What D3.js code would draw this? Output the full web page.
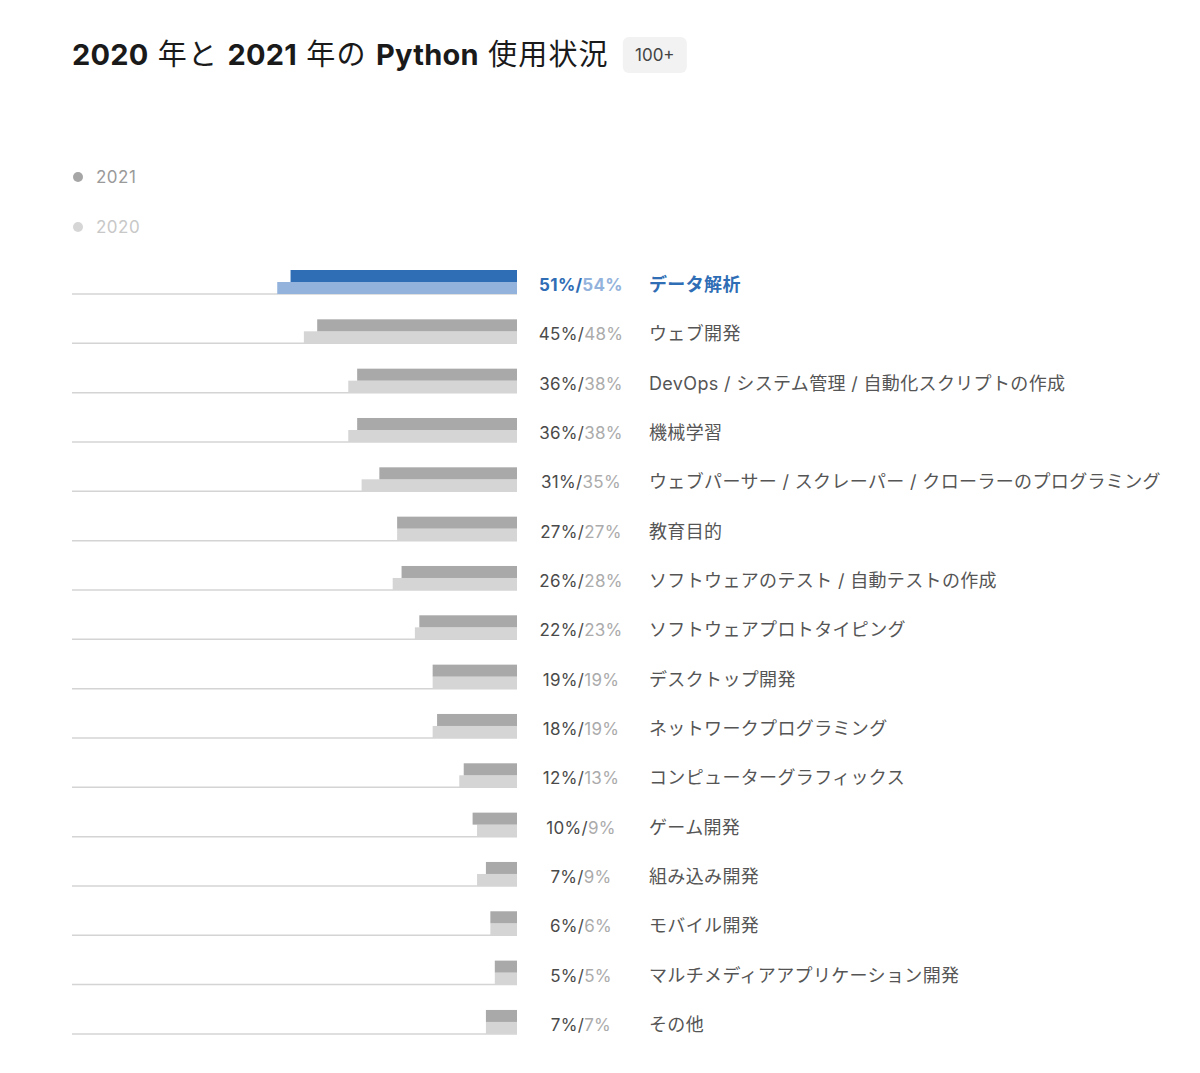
<!DOCTYPE html>
<html><head><meta charset="utf-8">
<script src="https://cdn.jsdelivr.net/npm/d3@7"></script>
<style>
body{margin:0;background:#fff;}
svg text{font-family:Inter,"Noto Sans CJK JP",sans-serif;}
</style></head>
<body><svg id="c" width="1200" height="1073"></svg>
<script>
const categories = ["データ解析","ウェブ開発","DevOps / システム管理 / 自動化スクリプトの作成","機械学習","ウェブパーサー / スクレーパー / クローラーのプログラミング","教育目的","ソフトウェアのテスト / 自動テストの作成","ソフトウェアプロトタイピング","デスクトップ開発","ネットワークプログラミング","コンピューターグラフィックス","ゲーム開発","組み込み開発","モバイル開発","マルチメディアアプリケーション開発","その他"];
const values2021 = [51,45,36,36,31,27,26,22,19,18,12,10,7,6,5,7];
const values2020 = [54,48,38,38,35,27,28,23,19,19,13,9,9,6,5,7];
const seriesNames = ["2021","2020"];
const titleParts = [["2020",700],[" 年と ",400],["2021",700],[" 年の ",400],["Python",700],[" 使用状況",400]];
const badgeText = "100+";
const highlightIndex = 0;

const svg = d3.select("#c");
const right = 517;
const x = d3.scaleLinear().domain([0,100]).range([0,444]);
const y = d3.scaleBand().domain(categories).range([262, 262+16*49.33]).paddingInner(0);

// title
const title = svg.append("text").attr("x",72).attr("y",65).attr("font-size",29).attr("fill","#1a1a1a").attr("xml:space","preserve");
title.selectAll("tspan").data(titleParts).join("tspan")
  .attr("font-weight",d=>d[1]).attr("letter-spacing",d=>d[1]===400?1.2:0.2).text(d=>d[0]);
const tw = title.node().getComputedTextLength();
const bx = 72 + tw + 14;
svg.append("rect").attr("x",bx).attr("y",37).attr("width",64).attr("height",36).attr("rx",6).attr("fill","#f2f2f2");
svg.append("text").attr("x",bx+32).attr("y",61).attr("text-anchor","middle").attr("font-size",17).attr("fill","#444").text(badgeText);

// legend
const legColors = ["#a6a6a6","#d6d6d6"], legText = ["#9a9a9a","#c8c8c8"];
seriesNames.forEach((s,i)=>{
  svg.append("circle").attr("cx",78).attr("cy",177+i*50).attr("r",5).attr("fill",legColors[i]);
  svg.append("text").attr("x",96).attr("y",183+i*50).attr("font-size",17).attr("letter-spacing",0.5).attr("fill",legText[i]).text(s);
});

const rows = svg.append("g").selectAll("g").data(categories).join("g")
  .attr("transform", c=>`translate(0,${y(c)})`);

rows.append("line").attr("x1",72).attr("x2",right).attr("y1",32).attr("y2",32)
  .attr("stroke","#d4d4d4").attr("stroke-width",1.5);
rows.append("rect").attr("x",(c,i)=>right - x(values2020[i])).attr("y",20).attr("width",(c,i)=>x(values2020[i])).attr("height",12)
  .attr("fill",(c,i)=> i===highlightIndex ? "#94b3dc" : "#d5d5d5");
rows.append("rect").attr("x",(c,i)=>right - x(values2021[i])).attr("y",8).attr("width",(c,i)=>x(values2021[i])).attr("height",12)
  .attr("fill",(c,i)=> i===highlightIndex ? "#2f6db5" : "#a9a9a9");

const pt = rows.append("text").attr("x",581).attr("y",29).attr("text-anchor","middle").attr("font-size",17).attr("letter-spacing",0.3)
  .attr("font-weight",(c,i)=> i===highlightIndex ? 700 : 400);
pt.append("tspan").attr("fill",(c,i)=> i===highlightIndex ? "#2f6db5" : "#4a4a4a").text((c,i)=>values2021[i]+"%/");
pt.append("tspan").attr("fill",(c,i)=> i===highlightIndex ? "#94b3dc" : "#ababab").text((c,i)=>values2020[i]+"%");

rows.append("text").attr("x",649).attr("y",29).attr("font-size",18).attr("letter-spacing",0.35)
  .attr("font-weight",(c,i)=> i===highlightIndex ? 700 : 400)
  .attr("fill",(c,i)=> i===highlightIndex ? "#2f6db5" : "#555")
  .text(c=>c);
</script></body></html>
